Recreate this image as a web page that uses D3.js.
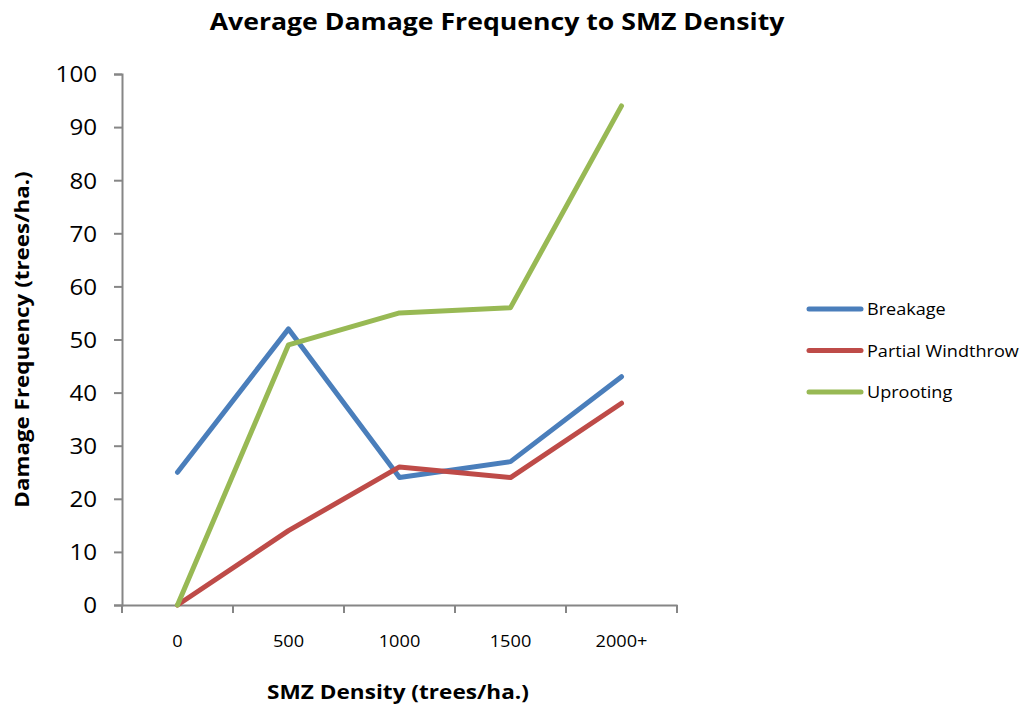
<!DOCTYPE html>
<html>
<head>
<meta charset="utf-8">
<script src="https://cdn.jsdelivr.net/npm/d3@7"></script>
<style>
  body { margin: 0; background: #fff; }
  text { font-family: "Open Sans", Lato, sans-serif; fill: #000; }
</style>
</head>
<body>
<div id="chart"></div>
<script>
"use strict";

var categories = ["0", "500", "1000", "1500", "2000+"];
var seriesNames = ["Breakage", "Partial Windthrow", "Uprooting"];
var breakage = [25, 52, 24, 27, 43];
var partialWindthrow = [0, 14, 26, 24, 38];
var uprooting = [0, 49, 55, 56, 94];
var yTicks = [0, 10, 20, 30, 40, 50, 60, 70, 80, 90, 100];
var colors = ["#4a7ebb", "#be4b48", "#98b954"];

var W = 1031, H = 709;
var plotLeft = 122, plotRight = 677, plotTop = 74, plotBottom = 605;
var AXIS_COLOR = "#868686";

var svg = d3.select("#chart").append("svg")
    .attr("width", W)
    .attr("height", H);

var x = d3.scaleBand().domain(categories).range([plotLeft, plotRight]);
var y = d3.scaleLinear().domain([0, 100]).range([plotBottom, plotTop]);

// The reference text is a little wider than Open Sans, so stretch it horizontally
function stretch(sel, sx) {
    sel.each(function () {
        var t = d3.select(this);
        var tx = +t.attr("x") || 0;
        var ty = +t.attr("y") || 0;
        t.attr("x", 0).attr("y", 0)
            .attr("transform", "translate(" + tx + "," + ty + ") scale(" + sx + ",1)");
    });
}

// Title
svg.append("text")
    .attr("x", 497).attr("y", 30)
    .attr("text-anchor", "middle")
    .style("font-size", "24px").style("font-weight", "bold")
    .text("Average Damage Frequency to SMZ Density")
    .call(stretch, 1.11);

// Y axis
var yAxis = svg.append("g")
    .attr("transform", "translate(" + plotLeft + ",0)")
    .call(d3.axisLeft(y).tickValues(yTicks).tickSize(8).tickPadding(17));
yAxis.select(".domain").attr("stroke", AXIS_COLOR).attr("stroke-width", 2);
yAxis.selectAll(".tick line").attr("stroke", AXIS_COLOR).attr("stroke-width", 2);
yAxis.selectAll(".tick text")
    .style("font-size", "21px").attr("fill", "#000")
    .attr("dy", null).attr("dominant-baseline", "central")
    .call(stretch, 1.15);

// X axis
var xAxis = svg.append("g")
    .attr("transform", "translate(0," + plotBottom + ")")
    .call(d3.axisBottom(x).tickSize(0).tickPadding(30));
xAxis.select(".domain").attr("stroke", AXIS_COLOR).attr("stroke-width", 2);
xAxis.selectAll(".tick text")
    .style("font-size", "17px").attr("fill", "#000")
    .call(stretch, 1.07);
// boundary ticks between categories
var bounds = categories.map(function (c) { return x(c); }).concat([x.range()[1]]);
xAxis.selectAll("line.bound").data(bounds).enter().append("line")
    .attr("class", "bound")
    .attr("x1", function (d) { return d; }).attr("x2", function (d) { return d; })
    .attr("y1", 0).attr("y2", 8)
    .attr("stroke", AXIS_COLOR).attr("stroke-width", 2);

// Axis titles
svg.append("text")
    .attr("transform", "translate(29," + ((plotTop + plotBottom) / 2) + ") rotate(-90) scale(1.12,1)")
    .attr("text-anchor", "middle")
    .style("font-size", "20px").style("font-weight", "bold")
    .text("Damage Frequency (trees/ha.)");

svg.append("text")
    .attr("x", 398).attr("y", 699)
    .attr("text-anchor", "middle")
    .style("font-size", "20px").style("font-weight", "bold")
    .text("SMZ Density (trees/ha.)")
    .call(stretch, 1.13);

// Lines
var series = [breakage, partialWindthrow, uprooting];
var line = d3.line()
    .x(function (d, i) { return x(categories[i]) + x.bandwidth() / 2; })
    .y(function (d) { return y(d); });

svg.selectAll("path.series").data(series).enter().append("path")
    .attr("class", "series")
    .attr("d", function (d) { return line(d); })
    .attr("fill", "none")
    .attr("stroke", function (d, i) { return colors[i]; })
    .attr("stroke-width", 5)
    .attr("stroke-linecap", "round")
    .attr("stroke-linejoin", "round");

// Legend
var legend = svg.selectAll("g.legend").data(seriesNames).enter().append("g")
    .attr("class", "legend")
    .attr("transform", function (d, i) { return "translate(809," + (309 + i * 41.5) + ")"; });
legend.append("line")
    .attr("x1", 0).attr("x2", 52).attr("y1", 0).attr("y2", 0)
    .attr("stroke", function (d, i) { return colors[i]; })
    .attr("stroke-width", 5)
    .attr("stroke-linecap", "round");
legend.append("text")
    .attr("x", 58).attr("y", 6)
    .style("font-size", "16px")
    .text(function (d) { return d; })
    .call(stretch, 1.13);
</script>
</body>
</html>
